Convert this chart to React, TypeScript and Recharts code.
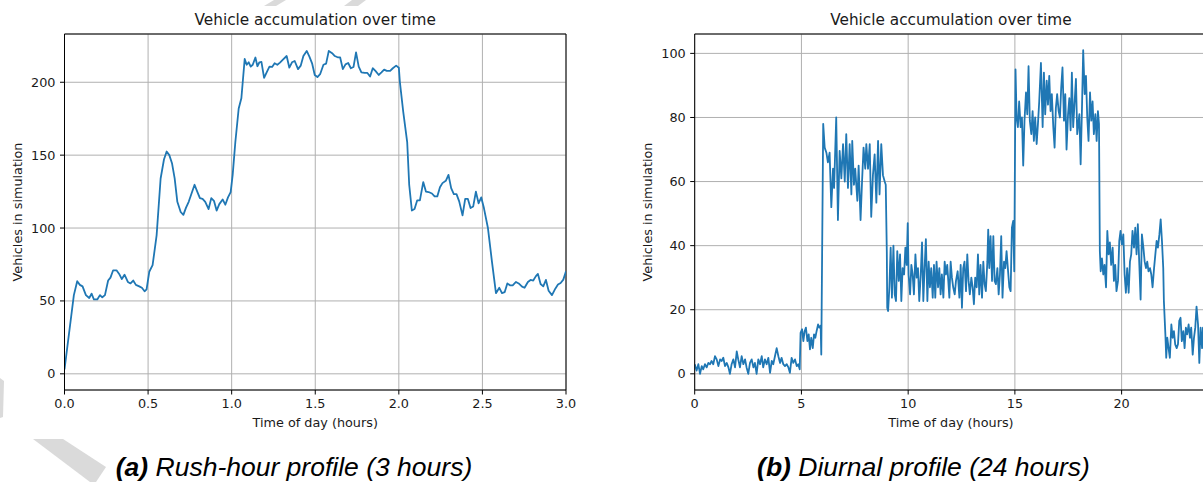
import React from 'react';
import { LineChart, Line, XAxis, YAxis, CartesianGrid, ReferenceLine } from 'recharts';

type Pt = [number, number];

// (a) Rush-hour profile: [hour, vehicles]
const rushMorning: Pt[] = [
  [0, 3], [0.056, 54], [0.076, 63.5], [0.092, 61], [0.108, 60], [0.128, 54], [0.148, 52], [0.162, 55],
  [0.176, 51], [0.196, 51], [0.212, 54], [0.226, 52.5], [0.242, 54], [0.261, 64], [0.275, 66], [0.291, 71],
  [0.311, 71], [0.327, 68.5], [0.343, 65], [0.359, 68], [0.379, 63], [0.395, 62], [0.411, 64], [0.427, 61],
  [0.447, 60], [0.463, 59], [0.479, 56.6], [0.491, 58], [0.507, 70], [0.527, 74.5], [0.551, 95], [0.575, 134],
  [0.595, 147], [0.611, 152.5], [0.627, 150], [0.643, 144.5], [0.659, 134], [0.675, 118], [0.695, 111],
  [0.711, 109], [0.727, 114], [0.743, 118], [0.761, 124], [0.778, 129.7], [0.794, 125], [0.81, 120.5],
  [0.826, 120], [0.842, 118], [0.862, 113], [0.878, 120.5], [0.894, 118.7], [0.91, 112], [0.926, 116.4],
  [0.946, 119.6], [0.962, 116], [0.978, 121], [0.994, 124.7],
];
const rushPeak: Pt[] = [
  [1.006, 136.5], [1.022, 159], [1.042, 182], [1.058, 189], [1.078, 216], [1.09, 212], [1.102, 213.7],
  [1.114, 210.7], [1.126, 212], [1.142, 217], [1.154, 211], [1.166, 213.7], [1.178, 214], [1.194, 203],
  [1.21, 207], [1.226, 210.7], [1.242, 210.5], [1.257, 213], [1.273, 212], [1.289, 213.5], [1.305, 215.3],
  [1.329, 218], [1.345, 210], [1.361, 213.7], [1.377, 214.6], [1.397, 209], [1.413, 211.4], [1.429, 218],
  [1.449, 221.5], [1.465, 217.6], [1.481, 213], [1.497, 205], [1.513, 203.6], [1.529, 205.5], [1.549, 212],
  [1.565, 212.8], [1.581, 221.5], [1.601, 219.9], [1.617, 218], [1.637, 217], [1.649, 217], [1.665, 209],
  [1.681, 212.3], [1.697, 213.2], [1.713, 209.6], [1.729, 210.5], [1.744, 220.5], [1.76, 210.7],
  [1.776, 206.8], [1.796, 206.4], [1.812, 206.4], [1.828, 203.9], [1.844, 209.6], [1.86, 207.8], [1.88, 205],
  [1.896, 206.8], [1.912, 208.7], [1.928, 207.8], [1.948, 207.8], [1.964, 209.6], [1.984, 211.4], [2.0, 210],
];
const rushEvening: Pt[] = [
  [2.006, 200.5], [2.026, 180], [2.05, 159], [2.062, 129.7], [2.078, 112], [2.094, 113], [2.11, 119],
  [2.126, 119], [2.146, 131.5], [2.162, 125], [2.178, 124.7], [2.198, 123.7], [2.214, 121.7], [2.23, 121.7],
  [2.246, 128], [2.261, 130.8], [2.281, 132.4], [2.297, 136.5], [2.313, 127.4], [2.329, 123.3], [2.345, 123.3],
  [2.361, 118.3], [2.381, 108.7], [2.397, 120], [2.413, 120], [2.429, 113.7], [2.445, 114.8], [2.461, 125],
  [2.477, 117], [2.493, 121], [2.509, 113.7], [2.533, 100], [2.557, 77], [2.581, 55.3], [2.601, 59],
  [2.617, 55.3], [2.633, 56], [2.649, 62], [2.665, 60.7], [2.681, 60.7], [2.701, 63], [2.717, 62],
  [2.737, 59.8], [2.752, 59], [2.772, 63], [2.788, 64.4], [2.804, 64], [2.82, 67], [2.832, 68.5], [2.848, 61.6],
  [2.864, 60], [2.88, 64.4], [2.896, 57], [2.916, 54], [2.936, 58.4], [2.952, 61.2], [2.968, 62.3],
  [2.984, 64.6], [3.0, 70.3],
];

// (b) Diurnal profile: [hour, vehicles]
const diurnalNight: Pt[] = [
  [0, 3], [0.09, 1], [0.17, 3], [0.25, 0], [0.33, 2.4], [0.4, 1.4], [0.48, 3], [0.56, 2], [0.64, 3.4], [0.72, 3],
  [0.79, 4], [0.87, 3], [0.95, 5.5], [1.03, 4.5], [1.11, 2.4], [1.19, 4.5], [1.26, 4], [1.34, 5], [1.42, 2.4],
  [1.5, 3.4], [1.58, 2], [1.65, 0], [1.73, 3], [1.81, 4.5], [1.89, 2], [1.97, 7], [2.04, 4.5], [2.12, 2],
  [2.2, 5.5], [2.28, 3], [2.36, 4.5], [2.43, 2], [2.51, 0], [2.59, 3.4], [2.67, 4.5], [2.75, 2], [2.82, 3.4],
  [2.9, 0], [2.98, 4.5], [3.06, 3], [3.14, 5.5], [3.21, 2], [3.29, 4.5], [3.37, 3], [3.45, 5], [3.53, 0.3],
  [3.61, 4], [3.68, 3], [3.76, 5.5], [3.84, 8], [3.92, 5.5], [4.0, 3.4], [4.07, 5], [4.15, 3], [4.23, 2.4],
  [4.31, 3], [4.39, 2], [4.46, 0.3], [4.54, 5], [4.62, 3.4], [4.7, 4.5], [4.78, 2.4], [4.85, 3], [4.92, 1.4],
];
const diurnalDawn: Pt[] = [
  [4.96, 12.8], [5.03, 13.9], [5.09, 10.2], [5.15, 13.3], [5.21, 14.4], [5.28, 10.2], [5.34, 12.3], [5.4, 7.6],
  [5.46, 11.25], [5.53, 8], [5.59, 12.3], [5.65, 11.25], [5.71, 13.3], [5.78, 15.4], [5.84, 14.4], [5.9, 15],
  [5.93, 6],
];
const diurnalMorning: Pt[] = [
  [6.02, 78], [6.09, 70.6], [6.17, 69], [6.24, 66], [6.32, 69], [6.4, 52], [6.48, 64], [6.53, 58], [6.63, 80],
  [6.71, 48], [6.79, 69.6], [6.87, 61], [6.95, 71.7], [7.03, 60], [7.1, 74.8], [7.18, 58], [7.26, 71.7],
  [7.34, 56], [7.38, 72.7], [7.46, 59], [7.52, 64], [7.62, 54], [7.68, 65], [7.77, 48], [7.84, 60],
  [7.91, 70.6], [7.99, 64], [8.04, 71.7], [8.12, 64], [8.2, 71.7], [8.27, 49], [8.35, 62], [8.43, 68.5],
  [8.51, 53.4], [8.59, 72.7], [8.66, 56], [8.74, 71.7], [8.82, 62], [8.9, 60], [8.95, 59], [9.0, 38],
];
const diurnalMidday: Pt[] = [
  [9.02, 20.6], [9.06, 19.6], [9.12, 27], [9.18, 39.4], [9.24, 23.75], [9.31, 40], [9.37, 24.8], [9.43, 22.7],
  [9.49, 38.3], [9.56, 29], [9.62, 37.3], [9.68, 22.7], [9.74, 33], [9.81, 31], [9.87, 39.4], [9.93, 34],
  [9.98, 47], [10.02, 31], [10.09, 24.8], [10.15, 34], [10.21, 31], [10.27, 24.8], [10.34, 37.3], [10.4, 30],
  [10.46, 33], [10.52, 22.7], [10.59, 31], [10.65, 41], [10.71, 22.7], [10.77, 33], [10.83, 42], [10.9, 22.7],
  [10.96, 35], [11.02, 27], [11.08, 33], [11.15, 23.75], [11.21, 34], [11.27, 23.75], [11.33, 35], [11.4, 27],
  [11.46, 33], [11.52, 24.8], [11.58, 31], [11.65, 23.75], [11.71, 35], [11.77, 31], [11.83, 34], [11.89, 28],
  [11.93, 23.75], [11.99, 35], [12.05, 30], [12.11, 27], [12.18, 24.8], [12.24, 29], [12.32, 32], [12.4, 23.75],
  [12.46, 34], [12.52, 20.6], [12.58, 33], [12.64, 35], [12.71, 25.8], [12.77, 37.3], [12.83, 29], [12.89, 24.8],
  [12.96, 30], [13.02, 27], [13.08, 21.7], [13.14, 30], [13.21, 27], [13.27, 37.3], [13.33, 24.8], [13.39, 34],
  [13.46, 23.75], [13.52, 35], [13.58, 28], [13.64, 25.8], [13.71, 35], [13.75, 45], [13.8, 33], [13.86, 43],
  [13.93, 29], [13.99, 43], [14.05, 29], [14.11, 28], [14.18, 33], [14.24, 24.8], [14.3, 31], [14.36, 43],
  [14.42, 23.75], [14.49, 35], [14.55, 33], [14.61, 38.3], [14.67, 33], [14.74, 27], [14.8, 25.8], [14.86, 45.6],
  [14.92, 47.7], [14.97, 32],
];
const diurnalPeak: Pt[] = [
  [15.0, 64], [15.03, 95], [15.08, 80], [15.14, 77], [15.2, 85], [15.27, 77], [15.33, 80], [15.39, 65],
  [15.45, 79], [15.52, 87.8], [15.58, 81], [15.64, 96], [15.7, 79], [15.77, 74.8], [15.83, 82], [15.89, 72.7],
  [15.95, 80], [16.02, 71.7], [16.08, 78], [16.14, 85], [16.22, 97], [16.3, 77], [16.36, 94], [16.42, 81],
  [16.49, 91.5], [16.55, 84], [16.61, 93], [16.67, 82], [16.73, 87.3], [16.8, 77], [16.86, 70.6], [16.92, 83],
  [16.98, 87.3], [17.05, 82], [17.11, 80], [17.17, 89.4], [17.23, 95.6], [17.3, 79], [17.36, 87.3], [17.42, 70],
  [17.49, 81], [17.55, 86], [17.61, 76], [17.67, 94], [17.73, 77], [17.8, 85], [17.86, 92], [17.92, 74.8],
  [18.02, 81], [18.08, 65.4], [18.14, 82], [18.2, 101], [18.27, 87.3], [18.33, 93], [18.39, 80], [18.45, 72.7],
  [18.52, 87.8], [18.58, 79], [18.64, 85], [18.7, 74.8], [18.77, 81], [18.83, 72.7], [18.89, 82], [18.94, 78],
];
const diurnalEvening: Pt[] = [
  [18.98, 38.3], [19.02, 32], [19.08, 36], [19.14, 31], [19.2, 34], [19.27, 27], [19.33, 44.6], [19.39, 37.3],
  [19.45, 41], [19.51, 34], [19.58, 39.4], [19.64, 29], [19.7, 34], [19.76, 25.8], [19.83, 29], [19.89, 41.5],
  [19.95, 44.6], [20.01, 40.4], [20.08, 43.5], [20.14, 31], [20.2, 25.3], [20.26, 33], [20.33, 25.3], [20.39, 35],
  [20.45, 37.3], [20.51, 44.6], [20.58, 39.4], [20.64, 45.6], [20.7, 37.3], [20.76, 46.7], [20.83, 34],
  [20.89, 23.2], [20.95, 43.5], [21.02, 39.4], [21.08, 35], [21.14, 33], [21.2, 35], [21.26, 32], [21.33, 33],
  [21.39, 31], [21.45, 27], [21.52, 33], [21.58, 37.3], [21.64, 41.5], [21.7, 39.4], [21.77, 43.5], [21.83, 48.2],
  [21.89, 41.5], [21.95, 33], [21.98, 22.7],
];
const diurnalLate: Pt[] = [
  [22.05, 12.3], [22.09, 5], [22.14, 11.25], [22.2, 8], [22.26, 5], [22.33, 15.4], [22.39, 11.25], [22.45, 13.3],
  [22.51, 9.2], [22.58, 8], [22.64, 9.2], [22.7, 16.5], [22.76, 17.5], [22.82, 10.2], [22.89, 13.3], [22.95, 8],
  [23.01, 14.4], [23.07, 12.3], [23.14, 15.4], [23.2, 11.25], [23.26, 14.4], [23.33, 6], [23.39, 11.25],
  [23.45, 14.4], [23.51, 21], [23.58, 15.4], [23.64, 3.4], [23.7, 14.4], [23.77, 8], [23.81, 14.4], [23.87, 10],
  [23.93, 16], [24.0, 9],
];

const rushXTicks = [0, 0.5, 1, 1.5, 2, 2.5, 3];
const rushYTicks = [0, 50, 100, 150, 200];
const diurnalXTicks = [0, 5, 10, 15, 20];
const diurnalYTicks = [0, 20, 40, 60, 80, 100];

const chartTitle = 'Vehicle accumulation over time';
const xLabel = 'Time of day (hours)';
const yLabel = 'Vehicles in simulation';
const captionA = ['(a)', ' Rush-hour profile (3 hours)'];
const captionB = ['(b)', ' Diurnal profile (24 hours)'];

const toRows = (pts: Pt[]) => pts.map(([t, v]) => ({ t, v }));
const rushData = toRows([...rushMorning, ...rushPeak, ...rushEvening]);
const diurnalData = toRows([
  ...diurnalNight, ...diurnalDawn, ...diurnalMorning, ...diurnalMidday,
  ...diurnalPeak, ...diurnalEvening, ...diurnalLate,
]);

const FONT = "'DejaVu Sans', sans-serif";
const tickStyle = { fontSize: 12.8, fill: '#1a1a1a', fontFamily: FONT };

type PanelProps = {
  data: { t: number; v: number }[];
  xDomain: [number, number];
  yDomain: [number, number];
  xTicks: number[];
  yTicks: number[];
  width: number;
  yAxisWidth: number;
  marginRight: number;
  xFmt: (v: number) => string;
};

function Panel({ data, xDomain, yDomain, xTicks, yTicks, width, yAxisWidth, marginRight, xFmt }: PanelProps) {
  return (
    <LineChart width={width} height={482} data={data} margin={{ top: 34, right: marginRight, bottom: 0, left: 0 }}>
      <CartesianGrid stroke="#b0b0b0" strokeWidth={1} />
      <XAxis
        dataKey="t"
        type="number"
        domain={xDomain}
        ticks={xTicks}
        interval={0}
        allowDataOverflow
        height={92}
        tickSize={4.5}
        tickMargin={4.5}
        tick={tickStyle}
        tickLine={{ stroke: '#000', strokeWidth: 1 }}
        axisLine={{ stroke: '#000', strokeWidth: 1 }}
        tickFormatter={xFmt}
      />
      <YAxis
        type="number"
        domain={yDomain}
        ticks={yTicks}
        interval={0}
        allowDataOverflow
        width={yAxisWidth}
        tickSize={4.5}
        tickMargin={4.5}
        tick={tickStyle}
        tickLine={{ stroke: '#000', strokeWidth: 1 }}
        axisLine={{ stroke: '#000', strokeWidth: 1 }}
      />
      <ReferenceLine y={yDomain[1]} stroke="#000" strokeWidth={1} ifOverflow="visible" />
      <ReferenceLine x={xDomain[1]} stroke="#000" strokeWidth={1} ifOverflow="visible" />
      <Line
        dataKey="v"
        type="linear"
        stroke="#1f77b4"
        strokeWidth={1.8}
        strokeLinejoin="round"
        dot={false}
        activeDot={false}
        isAnimationActive={false}
      />
    </LineChart>
  );
}

export default function App() {
  return (
    <div
      style={{
        position: 'absolute',
        left: 0,
        top: 0,
        width: 1203,
        height: 482,
        overflow: 'hidden',
        background: '#fff',
        fontFamily: FONT,
      }}
    >
      <div style={{ position: 'absolute', left: 0, top: 0 }}>
        <Panel
          data={rushData}
          xDomain={[0, 3]}
          yDomain={[-11.1, 233.1]}
          xTicks={rushXTicks}
          yTicks={rushYTicks}
          width={600}
          yAxisWidth={64.5}
          marginRight={34}
          xFmt={(v) => v.toFixed(1)}
        />
      </div>
      <div style={{ position: 'absolute', left: 600, top: 0 }}>
        <Panel
          data={diurnalData}
          xDomain={[0, 24]}
          yDomain={[-5.05, 106.05]}
          xTicks={diurnalXTicks}
          yTicks={diurnalYTicks}
          width={640}
          yAxisWidth={94.7}
          marginRight={33}
          xFmt={(v) => String(v)}
        />
      </div>
      <svg
        width={1203}
        height={482}
        style={{ position: 'absolute', left: 0, top: 0, pointerEvents: 'none' }}
      >
        {/* watermark fragments */}
        <g fill="#dadada">
          <polygon points="274,0 286,0 276,6 264,6" />
          <polygon points="352,0 366,0 358,6 344,6" />
          <polygon points="0,378 4,381 3,417 0,418" />
          <polygon points="33,439 63,439 106,467 96,482 90,482" />
        </g>
        <g fontFamily={FONT} fill="#1a1a1a">
          <text x={315.2} y={25} fontSize={15.3} textAnchor="middle">{chartTitle}</text>
          <text x={950.9} y={25} fontSize={15.3} textAnchor="middle">{chartTitle}</text>
          <text x={315.2} y={427} fontSize={12.8} textAnchor="middle">{xLabel}</text>
          <text x={950.9} y={427} fontSize={12.8} textAnchor="middle">{xLabel}</text>
          <text
            x={17.5}
            y={212}
            fontSize={12.8}
            textAnchor="middle"
            dominantBaseline="central"
            transform="rotate(-90 17.5 212)"
          >
            {yLabel}
          </text>
          <text
            x={647}
            y={212}
            fontSize={12.8}
            textAnchor="middle"
            dominantBaseline="central"
            transform="rotate(-90 647 212)"
          >
            {yLabel}
          </text>
        </g>
        <g fontFamily="'Liberation Sans', Arial, sans-serif" fontStyle="italic" fontSize={26.5} fill="#000">
          <text x={294} y={476} textAnchor="middle">
            <tspan fontWeight="bold">{captionA[0]}</tspan>
            {captionA[1]}
          </text>
          <text x={923.5} y={476} textAnchor="middle">
            <tspan fontWeight="bold">{captionB[0]}</tspan>
            {captionB[1]}
          </text>
        </g>
      </svg>
    </div>
  );
}
